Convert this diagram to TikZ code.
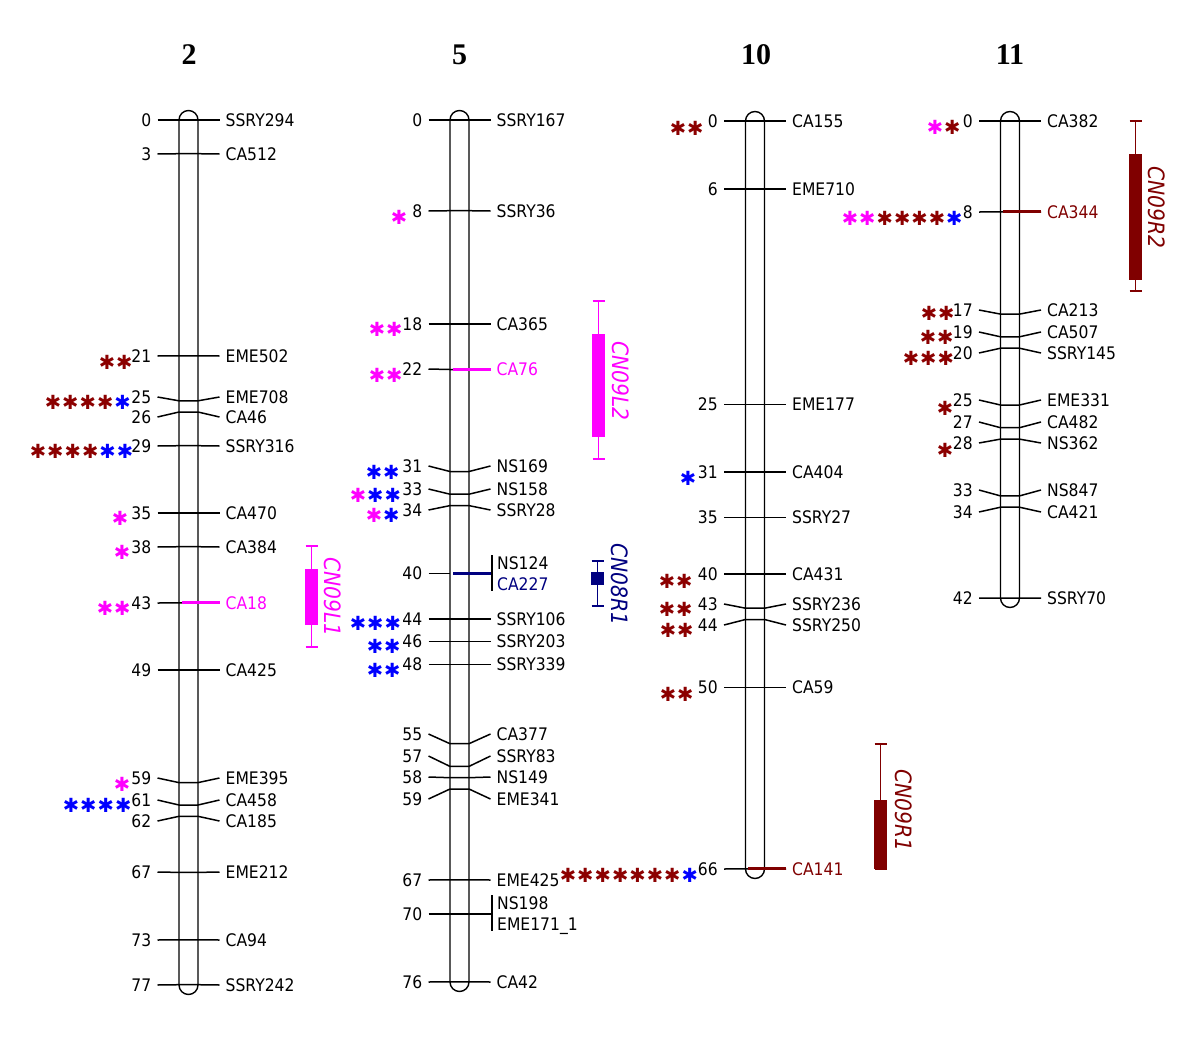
\documentclass[tikz,border=0pt]{standalone}
\usepackage{fontspec}
\setmainfont{DejaVu Sans}[FakeStretch=0.9]
\newfontfamily\titlefont{Liberation Serif}
\newfontfamily\astfont{DejaVu Sans}
\definecolor{dr}{RGB}{140,0,0}
\definecolor{mr}{RGB}{128,0,0}
\definecolor{mg}{RGB}{255,0,255}
\definecolor{bl}{RGB}{0,0,255}
\definecolor{nv}{RGB}{0,0,128}
\tikzset{
  tick/.style={line width=1.5pt},
  chrom/.style={draw, line width=1.4pt, rounded corners=9.5pt},
  num/.style={font=\fontsize{17.3}{20}\selectfont, inner sep=0pt, text height=12.6pt, text depth=0pt, anchor=east},
  nm/.style={font=\fontsize{17.3}{20}\selectfont, inner sep=0pt, text height=12.6pt, text depth=0pt, anchor=west},
  astr/.style={font=\astfont\fontsize{19.5}{20}\selectfont, inner sep=0pt, anchor=center},
  hl/.style={line width=3pt},
  qlab/.style={font=\itshape\fontsize{22.5}{24}\selectfont, inner sep=0pt, rotate=-90},
  ttl/.style={font=\titlefont\bfseries\fontsize{30}{30}\selectfont, inner sep=0pt}
}
% marker: #1 centre x, #2 y on bar, #3 label y, #4 number, #5 id, #6 name, #7 colour
\newcommand\mk[7]{%
  \draw[tick] (#1-31,#3) -- (#1-9.5,#2) -- (#1+9.5,#2) -- (#1+31,#3);
  \node[num] (n#5) at (#1-37,#3) {#4};
  \node[nm,text=#7] (m#5) at (#1+37,#3) {#6};}
% asterisks: #1 id, #2 leftmost centre x, #3 centre y, #4 colours
\newcommand\astrow[4]{%
  \foreach \cc [count=\i from 0] in {#4} {\node[astr,text=\cc] (s#1-\i) at ({#2+17.4*\i},{#3}) {✱};}}
% QTL: #1 x, #2 top, #3 bottom, #4 box top, #5 box bottom, #6 colour
\newcommand\qtl[6]{%
  \draw[#6, line width=1.4pt] (#1,#2) -- (#1,#3) (#1-6,#2) -- (#1+6,#2) (#1-6,#3) -- (#1+6,#3);
  \fill[#6] (#1-6.5,#4) rectangle (#1+6.5,#5);}
\begin{document}
\begin{tikzpicture}[x=1pt,y=-1pt]
\useasboundingbox (0,0) rectangle (1200,1042);
\fill[white] (0,0) rectangle (1200,1042);
% titles
\node[ttl] (t2) at (189,55) {2};
\node[ttl] (t5) at (459.5,55) {5};
\node[ttl] (t10) at (756,55) {10};
\node[ttl] (t11) at (1010,55) {11};
% chromosome bars
\draw[chrom] (179,110.5) rectangle (198,994.5);
\draw[chrom] (450,110.5) rectangle (469,991.5);
\draw[chrom] (745.5,111.5) rectangle (764.5,878.5);
\draw[chrom] (1000.5,111.5) rectangle (1019.5,607.5);
% ---- chromosome 2
\mk{188.5}{120}{120}{0}{a1}{SSRY294}{black}
\mk{188.5}{153.7}{154}{3}{a2}{CA512}{black}
\mk{188.5}{355.8}{356}{21}{a3}{EME502}{black}
\mk{188.5}{400.8}{397}{25}{a4}{EME708}{black}
\mk{188.5}{412}{417}{26}{a5}{CA46}{black}
\mk{188.5}{445.7}{446}{29}{a6}{SSRY316}{black}
\mk{188.5}{513}{513}{35}{a7}{CA470}{black}
\mk{188.5}{546.7}{547}{38}{a8}{CA384}{black}
\mk{188.5}{602.9}{603}{43}{a9}{CA18}{mg}
\draw[hl,mg] (182,602.9) -- (219.5,602.9);
\mk{188.5}{670}{670}{49}{a10}{CA425}{black}
\mk{188.5}{782.6}{778}{59}{a11}{EME395}{black}
\mk{188.5}{805}{800}{61}{a12}{CA458}{black}
\mk{188.5}{816.3}{821}{62}{a13}{CA185}{black}
\mk{188.5}{872.4}{872}{67}{a14}{EME212}{black}
\mk{188.5}{939.8}{940}{73}{a15}{CA94}{black}
\mk{188.5}{984.7}{985}{77}{a16}{SSRY242}{black}
% ---- chromosome 5
\mk{459.5}{120}{120}{0}{b1}{SSRY167}{black}
\mk{459.5}{210.7}{211}{8}{b2}{SSRY36}{black}
\mk{459.5}{324}{324}{18}{b3}{CA365}{black}
\mk{459.5}{369.5}{369}{22}{b4}{CA76}{mg}
\draw[line width=2.5pt,mg] (453,369.5) -- (490.5,369.5);
\mk{459.5}{471.5}{466}{31}{b5}{NS169}{black}
\mk{459.5}{494.2}{489}{33}{b6}{NS158}{black}
\mk{459.5}{505.6}{510}{34}{b7}{SSRY28}{black}
\draw[tick] (428.5,573.6) -- (450,573.6);
\draw[hl,nv] (453,573.6) -- (492,573.6);
\draw[tick] (492,555) -- (492,591);
\node[num] (nb8) at (422.5,573.6) {40};
\node[nm] (mb8) at (497,563) {NS124};
\node[nm,text=nv] (mb8b) at (497,584) {CA227};
\mk{459.5}{619}{619}{44}{b9}{SSRY106}{black}
\mk{459.5}{641.6}{641.6}{46}{b10}{SSRY203}{black}
\mk{459.5}{664.3}{664.3}{48}{b11}{SSRY339}{black}
\mk{459.5}{743.7}{734}{55}{b12}{CA377}{black}
\mk{459.5}{766.4}{756}{57}{b13}{SSRY83}{black}
\mk{459.5}{777.7}{777}{58}{b14}{NS149}{black}
\mk{459.5}{789}{799}{59}{b15}{EME341}{black}
\mk{459.5}{879.8}{880}{67}{b16}{EME425}{black}
\draw[tick] (428.5,913.8) -- (492,913.8);
\draw[tick] (492,895) -- (492,931);
\node[num] (nb17) at (422.5,913.8) {70};
\node[nm] (mb17) at (497,903) {NS198};
\node[nm] (mb17b) at (497,924) {EME171\_1};
\mk{459.5}{981.8}{982}{76}{b18}{CA42}{black}
% ---- chromosome 10
\mk{755}{121}{121}{0}{c1}{CA155}{black}
\mk{755}{189}{189}{6}{c2}{EME710}{black}
\mk{755}{404.3}{404.3}{25}{c3}{EME177}{black}
\mk{755}{472.2}{472.2}{31}{c4}{CA404}{black}
\mk{755}{517.6}{517.6}{35}{c5}{SSRY27}{black}
\mk{755}{574.2}{574.2}{40}{c6}{CA431}{black}
\mk{755}{608.2}{604}{43}{c7}{SSRY236}{black}
\mk{755}{619.5}{625}{44}{c8}{SSRY250}{black}
\mk{755}{687.5}{687.5}{50}{c9}{CA59}{black}
\mk{755}{868.8}{869}{66}{c10}{CA141}{mr}
\draw[hl,mr] (748,868.8) -- (786,868.8);
% ---- chromosome 11
\mk{1010}{121}{121}{0}{d1}{CA382}{black}
\mk{1010}{211.9}{212}{8}{d2}{CA344}{mr}
\draw[hl,mr] (1003,211.9) -- (1041,211.9);
\mk{1010}{314.1}{310}{17}{d3}{CA213}{black}
\mk{1010}{336.8}{332}{19}{d4}{CA507}{black}
\mk{1010}{348.2}{353}{20}{d5}{SSRY145}{black}
\mk{1010}{405}{400}{25}{d6}{EME331}{black}
\mk{1010}{427.7}{422}{27}{d7}{CA482}{black}
\mk{1010}{439.1}{443}{28}{d8}{NS362}{black}
\mk{1010}{495.9}{490}{33}{d9}{NS847}{black}
\mk{1010}{507.2}{512}{34}{d10}{CA421}{black}
\mk{1010}{598.1}{598}{42}{d11}{SSRY70}{black}
% ---- asterisks
\astrow{a3}{107}{362}{dr,dr}
\astrow{a4}{53}{402}{dr,dr,dr,dr,bl}
\astrow{a6}{38}{451}{dr,dr,dr,dr,bl,bl}
\astrow{a7}{120}{518}{mg}
\astrow{a8}{122}{552}{mg}
\astrow{a9}{105}{608}{mg,mg}
\astrow{a11}{122}{784}{mg}
\astrow{a12}{71}{805}{bl,bl,bl,bl}
\astrow{b2}{399}{217}{mg}
\astrow{b3}{377}{329}{mg,mg}
\astrow{b4}{377}{375}{mg,mg}
\astrow{b5}{374}{472}{bl,bl}
\astrow{b6}{358}{495}{mg,bl,bl}
\astrow{b7}{374}{515}{mg,bl}
\astrow{b9}{358}{623}{bl,bl,bl}
\astrow{b10}{375}{646}{bl,bl}
\astrow{b11}{375}{670}{bl,bl}
\astrow{c1}{678}{128}{dr,dr}
\astrow{c4}{688}{478}{bl}
\astrow{c6}{667}{581}{dr,dr}
\astrow{c7}{667}{609}{dr,dr}
\astrow{c8}{668}{630}{dr,dr}
\astrow{c9}{668}{694}{dr,dr}
\astrow{c10}{568}{875}{dr,dr,dr,dr,dr,dr,dr,bl}
\astrow{d1}{935}{127}{mg,dr}
\astrow{d2}{850}{218}{mg,mg,dr,dr,dr,dr,bl}
\astrow{d3}{929}{313}{dr,dr}
\astrow{d4}{928}{337}{dr,dr}
\astrow{d5}{911}{358}{dr,dr,dr}
\astrow{d6}{945}{408}{dr}
\astrow{d8}{945}{450}{dr}
% ---- QTL intervals
\qtl{311.5}{546}{647}{569}{625}{mg}
\node[qlab,text=mg] (q1) at (333,597) {CN09L1};
\qtl{598.5}{301}{459}{334}{437}{mg}
\node[qlab,text=mg] (q2) at (621,381) {CN09L2};
\qtl{597.5}{561}{606}{572}{585}{nv}
\node[qlab,text=nv] (q3) at (620,584) {CN08R1};
\qtl{880.5}{744}{869}{800}{869}{mr}
\node[qlab,text=mr] (q4) at (904,810) {CN09R1};
\qtl{1135.5}{121}{291}{154}{280}{mr}
\node[qlab,text=mr] (q5) at (1157,207) {CN09R2};
\end{tikzpicture}
\end{document}
